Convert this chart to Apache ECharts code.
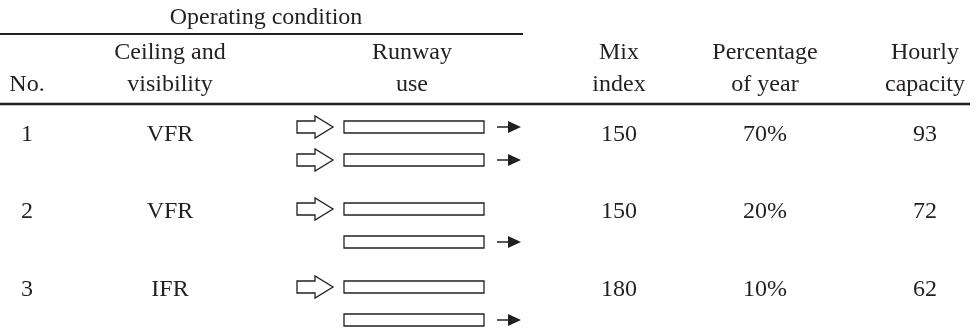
<!DOCTYPE html>
<html>
<head>
<meta charset="utf-8" />
<title>Runway capacity</title>
<script src="https://cdn.jsdelivr.net/npm/echarts@6/dist/echarts.min.js"></script>
</head>
<body style="margin:0;background:#fff">
<div id="main" style="width:980px;height:332px;"></div>
<script type="text/javascript">
// table data
var rowNo = ['1', '2', '3'];
var ceiling = ['VFR', 'VFR', 'IFR'];
// runway use: a = arrivals (hollow arrow), d = departures (black arrow)
var runwayTop = ['ad', 'a', 'a'];
var runwayBottom = ['ad', 'd', 'd'];
var mixIndex = [150, 150, 180];
var pctYear = [70, 20, 10];
var hourlyCap = [93, 72, 62];
var groupTitle = 'Operating condition';
var headLine1 = ['', 'Ceiling and', 'Runway', 'Mix', 'Percentage', 'Hourly'];
var headLine2 = ['No.', 'visibility', 'use', 'index', 'of year', 'capacity'];

// layout (pixels on a 980 x 332 value grid)
var colX = [27, 170, 412, 619, 765, 925];
var rowY = [135, 212, 290];
var runGap = 33;
var ink = '#231f20';
var font = 'Liberation Serif';

var myChart = echarts.init(document.getElementById('main'));

function txt(api, x, y, s) {
    var p = api.coord([x, y]);
    return {
        type: 'text',
        style: {
            x: p[0], y: p[1], text: s, fill: ink,
            font: '24px "' + font + '"',
            align: 'center', verticalAlign: 'middle'
        }
    };
}

function runway(api, y, use) {
    var out = [];
    var c = function (x, yy) { return api.coord([x, yy]); };
    if (use.indexOf('a') >= 0) {
        out.push({
            type: 'polygon',
            shape: { points: [c(297, y - 6), c(315, y - 6), c(315, y - 11), c(333, y), c(315, y + 11), c(315, y + 6), c(297, y + 6)] },
            style: { fill: '#fff', stroke: ink, lineWidth: 1.3 }
        });
    }
    var a = c(344, y - 6), b = c(484, y + 6);
    out.push({
        type: 'rect',
        shape: { x: a[0], y: a[1], width: b[0] - a[0], height: b[1] - a[1] },
        style: { fill: '#fff', stroke: ink, lineWidth: 1.3 }
    });
    if (use.indexOf('d') >= 0) {
        var l0 = c(497, y), l1 = c(510, y);
        out.push({
            type: 'line',
            shape: { x1: l0[0], y1: l0[1], x2: l1[0], y2: l1[1] },
            style: { stroke: ink, lineWidth: 1.5 }
        });
        out.push({
            type: 'polygon',
            shape: { points: [c(508, y - 6), c(521, y), c(508, y + 6)] },
            style: { fill: ink }
        });
    }
    return out;
}

var option = {
    animation: false,
    backgroundColor: '#fff',
    grid: { left: 0, right: 0, top: 0, bottom: 0 },
    xAxis: { type: 'value', min: 0, max: 980, show: false },
    yAxis: { type: 'value', min: 0, max: 332, inverse: true, show: false },
    series: [{
        // header block
        type: 'custom',
        data: [[0]],
        renderItem: function (params, api) {
            var kids = [txt(api, 266, 18, groupTitle)];
            for (var k = 0; k < colX.length; k++) {
                if (headLine1[k]) kids.push(txt(api, colX[k], 53, headLine1[k]));
                kids.push(txt(api, colX[k], 85, headLine2[k]));
            }
            var r1 = api.coord([0, 34]), r2 = api.coord([523, 34]);
            var r3 = api.coord([0, 104]), r4 = api.coord([970, 104]);
            kids.push({ type: 'line', shape: { x1: r1[0], y1: r1[1], x2: r2[0], y2: r2[1] }, style: { stroke: ink, lineWidth: 2 } });
            kids.push({ type: 'line', shape: { x1: r3[0], y1: r3[1], x2: r4[0], y2: r4[1] }, style: { stroke: ink, lineWidth: 2.5 } });
            return { type: 'group', children: kids };
        }
    }, {
        // table rows
        type: 'custom',
        data: rowNo.map(function (d, i) { return [i]; }),
        renderItem: function (params, api) {
            var i = api.value(0);
            var y = rowY[i];
            var kids = [
                txt(api, colX[0], y, rowNo[i]),
                txt(api, colX[1], y, ceiling[i]),
                txt(api, colX[3], y, String(mixIndex[i])),
                txt(api, colX[4], y, pctYear[i] + '%'),
                txt(api, colX[5], y, String(hourlyCap[i]))
            ];
            var ry = y - (i === 0 ? 8 : 3);
            kids = kids.concat(runway(api, ry, runwayTop[i]));
            kids = kids.concat(runway(api, ry + runGap, runwayBottom[i]));
            return { type: 'group', children: kids };
        }
    }]
};
myChart.setOption(option);
</script>
</body>
</html>
